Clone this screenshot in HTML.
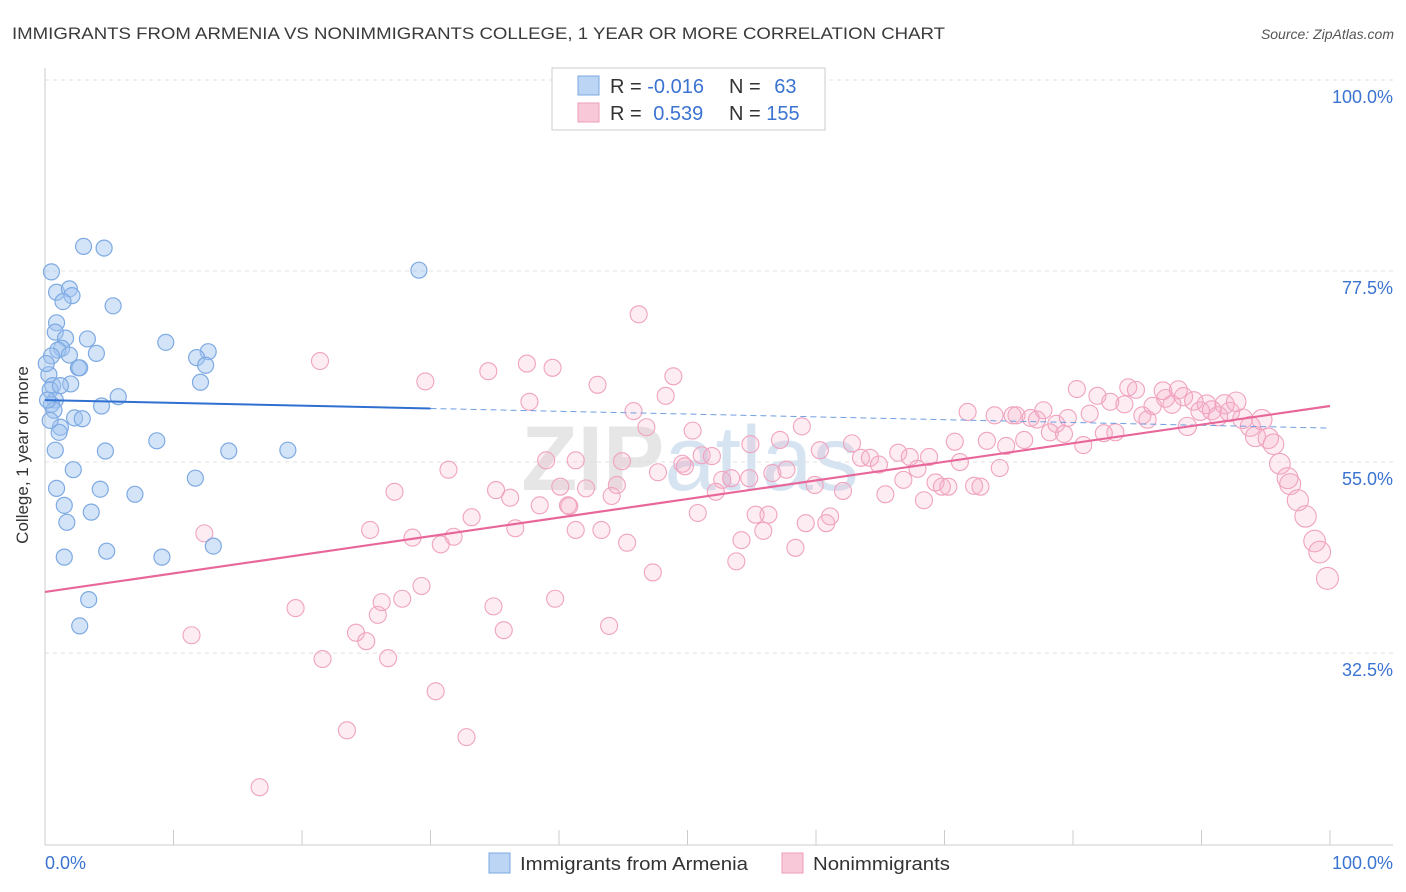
<!DOCTYPE html>
<html><head><meta charset="utf-8"><style>
body{margin:0;background:#fff;font-family:"Liberation Sans",sans-serif;}
svg{display:block}
</style></head><body>
<svg id="chart" width="1406" height="892" xmlns="http://www.w3.org/2000/svg">
<text x="12" y="39" font-size="17" fill="#3a3a3a" textLength="933" lengthAdjust="spacingAndGlyphs">IMMIGRANTS FROM ARMENIA VS NONIMMIGRANTS COLLEGE, 1 YEAR OR MORE CORRELATION CHART</text>
<text x="1394" y="39" font-size="14" fill="#555" font-style="italic" text-anchor="end">Source: ZipAtlas.com</text>
<text x="690" y="490" font-size="92" fill="#e6e6e6" text-anchor="middle" font-weight="bold">ZIP<tspan font-weight="normal" fill="#d6e4f2">atlas</tspan></text>
<g id="grid"></g>
<g id="axes"></g>
<g id="pts"></g>
<g id="trends"></g>
<text x="28" y="455" font-size="17" fill="#333" text-anchor="middle" transform="rotate(-90 28 455)">College, 1 year or more</text>
<text x="45" y="869" font-size="18" fill="#3b73d1">0.0%</text>
<text x="1393" y="869" font-size="18" fill="#3b73d1" text-anchor="end">100.0%</text>
<g>
<rect x="552" y="68" width="273" height="62" fill="#fff" stroke="#ccc"/>
<rect x="578" y="76" width="21" height="19" fill="#bcd5f5" stroke="#7aa8e0"/>
<rect x="578" y="103" width="21" height="19" fill="#f8c8d8" stroke="#ee9fbb"/>
<text x="610" y="93" font-size="20" fill="#333">R = <tspan fill="#3b73d1">-0.016</tspan></text>
<text x="729" y="93" font-size="20" fill="#333">N = <tspan fill="#3b73d1" dx="8">63</tspan></text>
<text x="610" y="120" font-size="20" fill="#333">R = <tspan fill="#3b73d1" dx="6">0.539</tspan></text>
<text x="729" y="120" font-size="20" fill="#333">N = <tspan fill="#3b73d1">155</tspan></text>
</g>
<g>
<rect x="489" y="853" width="21" height="20" fill="#bcd5f5" stroke="#7aa8e0"/>
<text x="520" y="870" font-size="18" fill="#333" textLength="228" lengthAdjust="spacingAndGlyphs">Immigrants from Armenia</text>
<rect x="782" y="853" width="21" height="20" fill="#f8c8d8" stroke="#ee9fbb"/>
<text x="813" y="870" font-size="18" fill="#333" textLength="137" lengthAdjust="spacingAndGlyphs">Nonimmigrants</text>
</g>
</svg>
<script>
const yTicks=[100,77.5,55,32.5];
const yTickLabels=["100.0%","77.5%","55.0%","32.5%"];
const xTicks=[0,10,20,30,40,50,60,70,80,90,100];
const blueX=[3.0,4.6,0.5,29.1,0.9,1.9,2.1,1.4,5.3,0.9,0.8,3.3,1.6,9.4,1.3,1.0,1.9,4.0,12.7,11.8,0.5,2.6,2.7,12.5,0.3,12.1,2.0,0.6,0.4,5.7,0.8,4.4,0.5,0.7,2.3,2.9,1.2,1.1,8.7,0.8,4.7,14.3,18.9,2.2,11.7,0.9,4.3,7.0,1.5,3.6,1.7,13.1,4.8,1.5,9.1,3.4,2.7,0.2,0.4,1.2,0.1];
const blueY=[80.4,80.2,77.4,77.6,75.0,75.4,74.6,73.9,73.4,71.4,70.3,69.5,69.6,69.1,68.4,68.2,67.6,67.8,68.0,67.3,67.5,66.1,66.1,66.4,65.3,64.4,64.2,64.0,63.5,62.7,62.3,61.6,61.8,61.1,60.2,60.1,59.1,58.5,57.5,56.4,56.3,56.3,56.4,54.1,53.1,51.9,51.8,51.2,49.9,49.1,47.9,45.1,44.5,43.8,43.8,38.8,35.7,62.3,59.9,64.0,66.6];
const pinkX=[21.4,29.6,34.5,37.5,39.5,46.2,43.0,48.9,48.3,37.7,45.8,46.8,39.0,31.4,27.2,35.1,36.2,41.3,42.1,40.1,40.7,44.9,44.5,47.7,49.8,50.4,51.1,51.9,52.7,53.4,54.8,54.9,56.6,57.2,57.7,58.9,60.3,59.9,62.1,62.8,63.5,64.2,64.9,65.4,66.4,66.8,67.3,67.9,68.4,68.8,69.3,69.8,70.3,70.8,71.2,71.8,72.3,72.8,73.3,73.9,74.3,74.8,75.3,75.6,76.2,76.7,77.2,77.7,78.2,78.7,79.3,79.6,80.3,80.8,81.3,81.9,82.4,82.9,83.3,84.0,84.3,84.9,85.4,85.8,86.2,87.0,87.2,87.7,88.2,88.6,88.9,89.4,89.9,90.4,90.8,91.3,91.8,92.2,92.7,93.2,93.8,94.2,94.7,95.2,95.6,96.1,96.7,96.9,97.5,98.1,98.8,99.2,99.8,12.4,11.4,19.5,21.6,23.5,24.2,25.0,25.3,25.9,26.2,26.7,27.8,29.3,30.4,32.8,30.8,28.6,31.8,33.2,34.9,35.7,36.6,39.7,40.8,41.3,43.3,43.9,45.3,47.3,50.8,52.2,53.8,54.2,55.3,56.3,55.9,58.4,59.2,60.8,61.1,16.7,38.5,44.1,49.6];
const pinkY=[66.9,64.5,65.7,66.6,66.1,72.4,64.1,65.1,62.8,62.1,61.0,59.1,55.2,54.1,51.5,51.7,50.8,55.2,51.9,52.1,49.9,55.1,52.3,53.8,54.5,58.7,55.8,55.7,52.9,53.1,53.1,57.1,53.7,57.6,54.1,59.2,56.4,52.3,51.6,57.2,55.5,55.5,54.7,51.2,56.1,52.9,55.6,54.2,50.5,55.6,52.6,52.1,52.1,57.4,55.0,60.9,52.2,52.1,57.5,60.5,54.3,56.9,60.5,60.5,57.6,60.2,60.0,61.1,58.5,59.5,58.3,60.2,63.6,57.0,60.7,62.8,58.4,62.1,58.5,61.8,63.8,63.5,60.5,60.0,61.6,63.4,62.5,61.8,63.5,62.7,59.2,62.2,61.0,61.8,61.1,60.4,61.8,60.9,62.1,60.1,59.2,58.0,60.0,57.8,57.1,54.8,53.1,52.4,50.5,48.6,45.7,44.4,41.3,46.6,34.6,37.8,31.8,23.4,34.9,33.9,47.0,37.0,38.5,31.9,38.9,40.4,28.0,22.6,45.3,46.1,46.2,48.5,38.0,35.2,47.2,38.9,49.8,47.0,47.0,35.7,45.5,42.0,49.0,51.5,43.3,45.8,48.8,48.8,46.9,44.9,47.8,47.8,48.6,16.7,49.9,51.0,54.8];
const blueTrend=[62.3,59.0];
const pinkTrend=[39.7,61.6];
const NS="http://www.w3.org/2000/svg";
const X0=45,X1=1330,Y100=80,PXP=8.49;
function xs(v){return X0+(X1-X0)*v/100;}
function ys(v){return Y100+(100-v)*PXP;}
function mk(tag,attrs,parent){const e=document.createElementNS(NS,tag);for(const k in attrs)e.setAttribute(k,attrs[k]);parent.appendChild(e);return e;}
const grid=document.getElementById('grid'),axes=document.getElementById('axes'),pts=document.getElementById('pts'),tr=document.getElementById('trends');
yTicks.forEach((t,i)=>{
 const l=mk('line',{x1:45,x2:1393,y1:ys(t),y2:ys(t),stroke:'#e0e0e0','stroke-dasharray':'4,4'},grid);
 
 
 const tx=mk('text',{x:1393,y:ys(t)+23,'font-size':18,fill:'#3b73d1','text-anchor':'end'},grid);
 tx.textContent=yTickLabels[i];
 
 
});
mk('line',{x1:45,x2:45,y1:68,y2:845,stroke:'#ccc'},axes);
mk('line',{x1:45,x2:1393,y1:845,y2:845,stroke:'#ccc'},axes);
xTicks.forEach(t=>{
 const l=mk('line',{x1:xs(t),x2:xs(t),y1:830,y2:845,stroke:'#ccc'},axes);
 
 
});
pinkX.forEach((x,i)=>{
 const r=8.5+2.5*Math.max(0,(x-85)/15);
 const c=mk('circle',{cx:xs(x),cy:ys(pinkY[i]),r:r,fill:'rgba(246,170,196,0.22)',stroke:'#f0a3bf','stroke-width':1.1},pts);
 
 
});
blueX.forEach((x,i)=>{
 const c=mk('circle',{cx:xs(x),cy:ys(blueY[i]),r:8,fill:'rgba(160,196,240,0.45)',stroke:'#7eaae3','stroke-width':1.2},pts);
 
 
});
function by(x){return blueTrend[0]+(blueTrend[1]-blueTrend[0])*x/100;}
const b1=mk('line',{x1:xs(0),y1:ys(by(0)),x2:xs(30),y2:ys(by(30)),stroke:'#2f6fd0','stroke-width':2},tr);


const b2=mk('line',{x1:xs(30),y1:ys(by(30)),x2:xs(100),y2:ys(by(100)),stroke:'#6f9ee0','stroke-width':1,'stroke-dasharray':'6,4'},tr);


const p1=mk('line',{x1:xs(0),y1:ys(pinkTrend[0]),x2:xs(100),y2:ys(pinkTrend[1]),stroke:'#e8679a','stroke-width':2.2},tr);


</script>
</body></html>
